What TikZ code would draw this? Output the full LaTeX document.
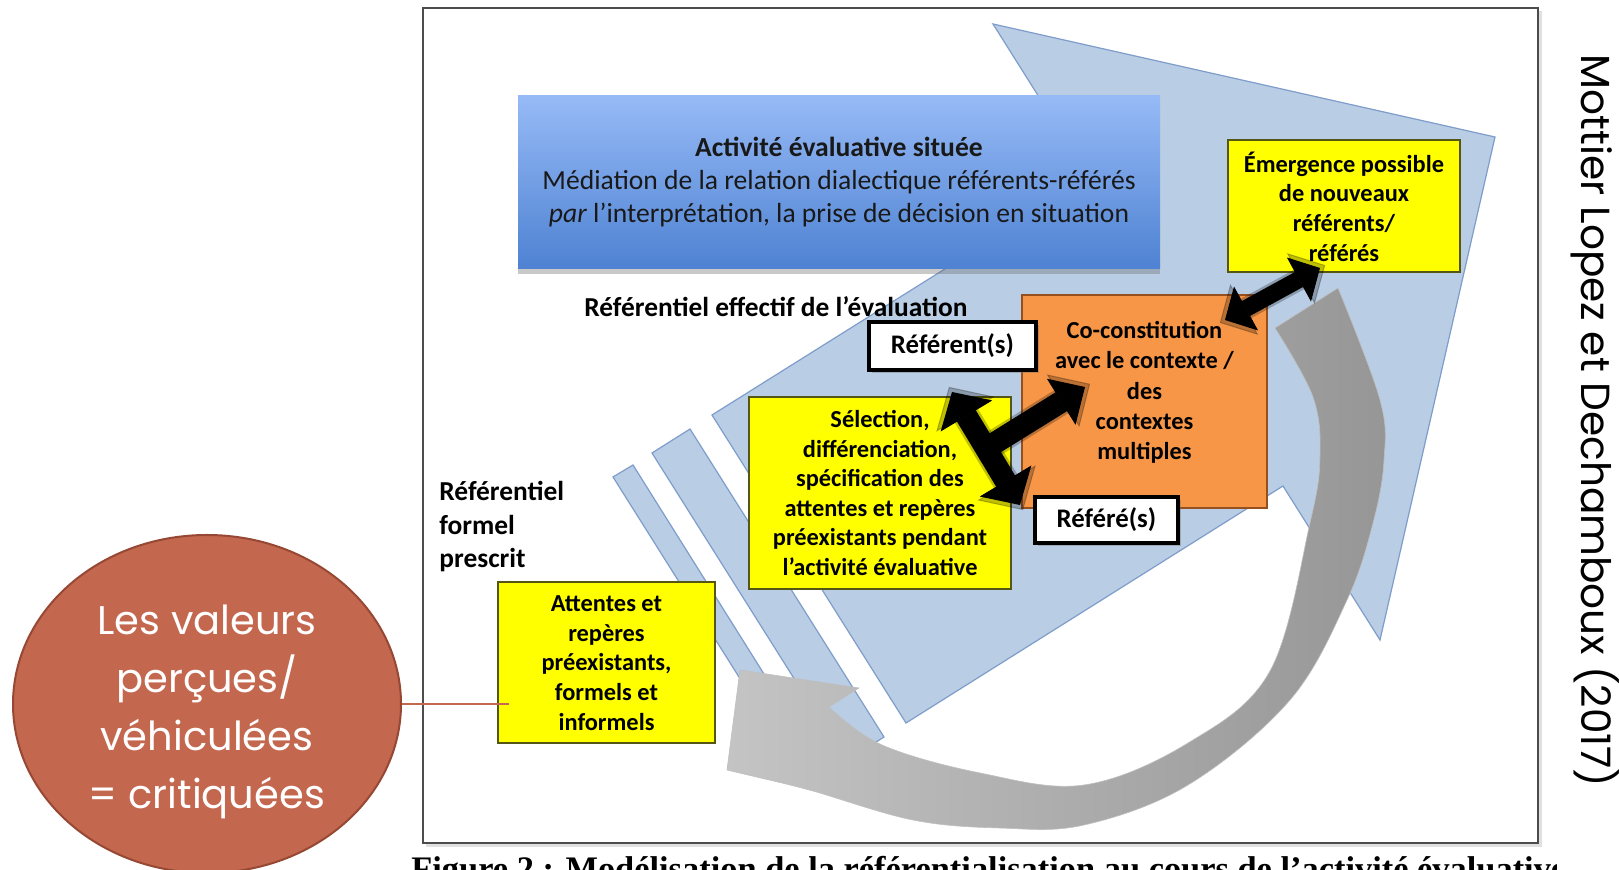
\documentclass[tikz,border=0pt]{standalone}
\usepackage{fontspec}
\setmainfont{Carlito}
\newfontfamily\gothic{Poppins}
\newfontfamily\timesb{Liberation Serif}
\usetikzlibrary{shapes.geometric,arrows.meta,shadows,calc}
\definecolor{blueL}{RGB}{185,205,229}
\definecolor{blueE}{RGB}{126,157,202}
\definecolor{titleTop}{RGB}{150,186,246}
\definecolor{titleBot}{RGB}{78,130,210}
\definecolor{yel}{RGB}{255,255,0}
\definecolor{yelE}{RGB}{85,85,20}
\definecolor{ora}{RGB}{247,150,70}
\definecolor{oraE}{RGB}{150,80,30}
\definecolor{terra}{RGB}{196,103,79}
\definecolor{terraE}{RGB}{150,72,52}
\definecolor{greyL}{RGB}{196,196,196}
\definecolor{greyD}{RGB}{150,150,150}
\tikzset{
  bluearrow/.style={fill=blueL, draw=blueE, line width=0.6pt, line join=miter},
  titlebox/.style={rectangle, top color=titleTop, bottom color=titleBot, draw=none,
    minimum width=321pt, minimum height=86.5pt, align=center, inner sep=0pt,
    font=\fontsize{13.8}{16.5}\selectfont, text=black!90,
    drop shadow={shadow xshift=0pt, shadow yshift=-2.5pt, opacity=0.35, fill=black!60}},
  ybox/.style={rectangle, fill=yel, draw=yelE, line width=0.75pt, inner sep=0pt},
  obox/.style={rectangle, fill=ora, draw=oraE, line width=0.75pt, inner sep=0pt},
  wbox/.style={rectangle, fill=white, draw=black, line width=2pt, inner sep=0pt,
    font=\fontsize{13.4}{16}\selectfont\bfseries,
    drop shadow={shadow xshift=1.5pt, shadow yshift=-1.5pt, opacity=0.35, fill=black!60}},
  btext/.style={align=center, inner sep=0pt, font=\fontsize{12.2}{14.8}\selectfont\bfseries},
  lbl/.style={inner sep=0pt, font=\fontsize{13.7}{16.75}\selectfont\bfseries},
  blk/.style={draw=black, line cap=butt},
  halo/.style={draw=black, opacity=0.25, line cap=butt}
}
\begin{document}
\begin{tikzpicture}[x=0.5pt,y=-0.5pt]
\useasboundingbox (0,0) rectangle (1619,870);
\fill[white] (0,0) rectangle (1619,870);

% frame of the figure
\fill[black!12] (426,11) rectangle (1542,847);
\draw[fill=white, draw=black!70, line width=1.1pt] (423,8) rectangle (1538,843);

% big striped block arrow
\draw[bluearrow] (712,415) -- (1090,178) -- (993,24) -- (1495,137) -- (1380,640) -- (1283,486) -- (906,723) -- cycle;
\draw[bluearrow] (652,453) -- (690,429) -- (884,737) -- (846,761) -- cycle;
\draw[bluearrow] (613,477) -- (633,465) -- (826,773) -- (807,785) -- cycle;

% title box
\node[titlebox] (title) at (839,182.5)
  {\textbf{Activité évaluative située}\\
   Médiation de la relation dialectique référents-référés\\
   \textit{par} l’interprétation, la prise de décision en situation};

% grey curved arrow
\path[left color=greyL, right color=greyD, draw=black!25, line width=0.3pt]
  (740,670) -- (859,688) -- (829,707)
  -- plot[smooth, tension=0.6] coordinates {(829,707) (882,745) (980,773) (1084,785) (1188,743) (1270,671) (1310,523) (1320,457) (1313,397) (1275,328)}
  -- (1338,288)
  -- plot[smooth, tension=0.6] coordinates {(1338,288) (1380,400) (1384,460) (1373,523) (1347,600) (1290,700) (1188,785) (1084,825) (1000,828) (913,820) (813,791) (765,779)}
  -- (727,770) -- cycle;

% boxes
\node[ybox, minimum width=116pt, minimum height=66pt] (emer) at (1344,206) {};
\node[btext] (emert) at (1344,206.5) {Émergence possible\\de nouveaux\\référents/\\référés};

\node[obox, minimum width=122.5pt, minimum height=106.5pt] (co) at (1144.5,401.5) {};
\node[btext, font=\fontsize{12.2}{15.1}\selectfont\bfseries] (cot) at (1144.5,392.5) {Co-constitution\\avec le contexte /\\des\\contextes\\multiples};

\node[ybox, minimum width=131pt, minimum height=96pt] (sel) at (880,493) {};
\node[btext] (selt) at (880,493) {Sélection,\\différenciation,\\spécification des\\attentes et repères\\préexistants pendant\\l’activité évaluative};

\node[wbox, minimum width=83.5pt, minimum height=24pt] (refnt) at (952.5,346) {Référent(s)};
\node[wbox, minimum width=71.5pt, minimum height=23pt] (refe) at (1106.5,520) {Référé(s)};

\node[ybox, minimum width=108.5pt, minimum height=80.5pt] (att) at (606.5,662.5) {};
\node[btext] (attt) at (606.5,663) {Attentes et\\repères\\préexistants,\\formels et\\informels};

% black arrows (with a soft halo)
\coordinate (d1) at (952,392);
\coordinate (d2) at (1020,505);
\coordinate (dm) at ($(d1)!0.5!(d2)$);
\coordinate (d3) at (1085,387);
\coordinate (e1) at (1225,320);
\coordinate (e2) at (1320,268);
\draw[halo, line width=13.5pt, {Triangle[length=16pt,width=34pt,line width=0.5pt]}-{Triangle[length=16pt,width=34pt,line width=0.5pt]}] ($(d1)!-3pt!(d2)$) -- ($(d2)!-3pt!(d1)$);
\draw[halo, line width=13.5pt, -{Triangle[length=16pt,width=31pt,line width=0.5pt]}] (dm) -- ($(d3)!-3pt!(dm)$);
\draw[halo, line width=11pt, {Triangle[length=14pt,width=29pt,line width=0.5pt]}-{Triangle[length=14pt,width=29pt,line width=0.5pt]}] ($(e1)!-3pt!(e2)$) -- ($(e2)!-3pt!(e1)$);
\draw[blk, line width=11pt, {Triangle[length=14pt,width=30pt,line width=0.5pt]}-{Triangle[length=14pt,width=30pt,line width=0.5pt]}] (d1) -- (d2);
\draw[blk, line width=11pt, -{Triangle[length=14pt,width=27pt,line width=0.5pt]}] (dm) -- (d3);
\draw[blk, line width=8.5pt, {Triangle[length=12pt,width=25pt,line width=0.5pt]}-{Triangle[length=12pt,width=25pt,line width=0.5pt]}] (e1) -- (e2);

% labels
\node[lbl] (effectif) at (776,307) {Référentiel effectif de l’évaluation};
\node[lbl, anchor=west, align=left] (formel) at (439,527) {Référentiel\\formel\\prescrit};

% ellipse and its link
\node[ellipse, fill=terra, draw=terraE, line width=1pt, minimum width=194pt, minimum height=169pt, inner sep=0pt] (val) at (207,704) {};
\node[align=center, inner sep=0pt, text=white, font=\gothic\fontsize{20}{29}\selectfont] (valt) at (207,712) {Les valeurs\\perçues/\\véhiculées\\= critiquées};
\draw[terra, line width=0.6pt] (val.east) -- ([xshift=6pt]val.east -| att.west);

% vertical credit
\node[rotate=-90, anchor=base, inner sep=0pt, font=\gothic\fontsize{20.3}{24}\selectfont] (credit) at (1581,421) {Mottier Lopez et Dechamboux (2017)};

% caption, cut by the crop
\begin{scope}
\clip (411,846) rectangle (1556,870);
\node[anchor=base west, inner sep=0pt, font=\timesb\bfseries\fontsize{17.2}{20}\selectfont] (caption) at (411,881) {Figure 2 : Modélisation de la référentialisation au cours de l’activité évaluative};
\end{scope}
\end{tikzpicture}
\end{document}
